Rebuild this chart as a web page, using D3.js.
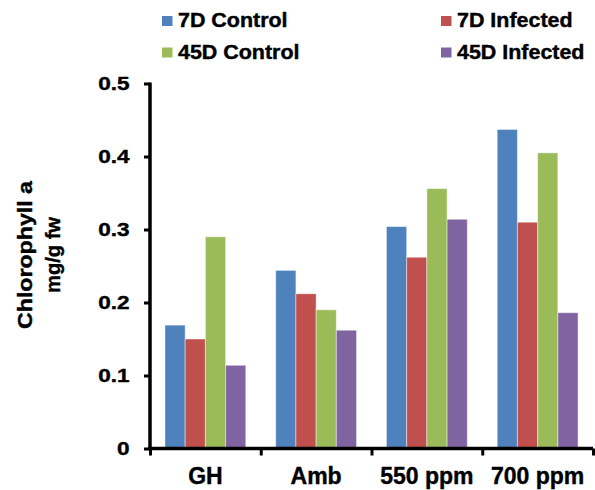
<!DOCTYPE html>
<html>
<head>
<meta charset="utf-8">
<script src="https://cdn.jsdelivr.net/npm/d3@7"></script>
<style>
  html, body { margin: 0; padding: 0; background: #fff; }
  svg { display: block; font-family: "Liberation Sans", Arial, sans-serif; font-weight: bold; }
  svg text { stroke: #000; stroke-width: 0.4px; }
</style>
</head>
<body>
<script>
// data
const categories = ['GH', 'Amb', '550 ppm', '700 ppm'];
const seriesNames = ['7D Control', '7D Infected', '45D Control', '45D Infected'];
const colors = ['#4F81BD', '#C0504D', '#9BBB59', '#8064A2'];
const control7 = [0.169, 0.244, 0.304, 0.437];
const infected7 = [0.150, 0.212, 0.262, 0.310];
const control45 = [0.290, 0.190, 0.356, 0.405];
const infected45 = [0.114, 0.162, 0.314, 0.186];
const yTicks = [0, 0.1, 0.2, 0.3, 0.4, 0.5];

const seriesValues = [control7, infected7, control45, infected45];

const W = 595, H = 490;
const m = { left: 150, right: 2, top: 83.5, bottom: 41.5 };

const svg = d3.select('body').append('svg')
    .attr('width', W).attr('height', H);

const y = d3.scaleLinear().domain([0, 0.5]).range([H - m.bottom, m.top]);
const x = d3.scaleBand().domain(categories)
    .range([m.left, W - m.right])
    .paddingInner(0.27).paddingOuter(0.135);
const xs = d3.scaleBand().domain(seriesNames).range([0, x.bandwidth()]);
const xEdge = d3.scaleLinear().domain([0, categories.length]).range([m.left, W - m.right]);

// bars
const groups = svg.append('g').selectAll('g')
    .data(seriesNames)
    .join('g')
    .attr('fill', (d, i) => colors[i]);

groups.selectAll('rect')
    .data((s, i) => categories.map((c, j) => ({ s, c, v: seriesValues[i][j] })))
    .join('rect')
    .attr('x', d => x(d.c) + xs(d.s))
    .attr('y', d => y(d.v))
    .attr('width', xs.bandwidth())
    .attr('height', d => y(0) - y(d.v))
    .attr('stroke', '#fff')
    .attr('stroke-opacity', 0.45)
    .attr('stroke-width', 1);

// y axis (labels are a bit wider than plain Arial in the original)
const sxTick = 1.22;
const yAxis = svg.append('g')
    .attr('transform', `translate(${m.left},0)`)
    .call(d3.axisLeft(y).tickValues(yTicks).tickFormat(d => d === 0 ? '0' : d3.format('.1f')(d))
        .tickSize(6));
yAxis.select('.domain').attr('stroke', '#000').attr('stroke-width', 3.5)
    .attr('d', `M0,${y(0.5) - 1}V${y(0)}`);
yAxis.selectAll('.tick line').attr('stroke-width', 3);
yAxis.selectAll('.tick text')
    .attr('font-size', 18.5).attr('font-family', null).attr('font-weight', 'bold').attr('fill', '#000')
    .attr('x', -20.5 / sxTick)
    .attr('transform', `scale(${sxTick},1)`);

// x axis: boundary ticks
const xAxis = svg.append('g')
    .attr('transform', `translate(0,${y(0)})`)
    .call(d3.axisBottom(xEdge).tickValues(d3.range(categories.length + 1)).tickFormat('').tickSize(7));
xAxis.select('.domain').attr('stroke-width', 3.5).attr('d', `M${xEdge(0) - 2},0H${xEdge(categories.length)}`);
xAxis.selectAll('.tick line').attr('stroke-width', 3);

// category labels
svg.append('g')
    .attr('transform', `translate(0,${y(0)})`)
    .call(d3.axisBottom(x).tickSize(0).tickPadding(19))
    .call(g => g.select('.domain').remove())
    .selectAll('text')
    .attr('font-size', 23).attr('font-family', null).attr('font-weight', 'bold').attr('fill', '#000');

// y title
const yt = svg.append('text')
    .attr('transform', 'translate(32,255) rotate(-90)')
    .attr('text-anchor', 'middle')
    .attr('font-size', 20.5);
yt.append('tspan').attr('x', 0).attr('dy', 0)
    .attr('textLength', 148).attr('lengthAdjust', 'spacingAndGlyphs')
    .text('Chlorophyll a');
yt.append('tspan').attr('x', 0).attr('dy', 28)
    .attr('textLength', 76).attr('lengthAdjust', 'spacingAndGlyphs')
    .text('mg/g fw');

// legend
const sxLeg = 1.1;
const legend = svg.append('g').selectAll('g')
    .data(seriesNames)
    .join('g')
    .attr('transform', (d, i) => `translate(${i % 2 ? 441 : 162},${i < 2 ? 16 : 47.5})`);
legend.append('rect').attr('width', 10.5).attr('height', 10).attr('fill', (d, i) => colors[i]);
legend.append('text')
    .attr('transform', `translate(16,11) scale(${sxLeg},1)`)
    .attr('font-size', 19.5)
    .text(d => d);
</script>
</body>
</html>
